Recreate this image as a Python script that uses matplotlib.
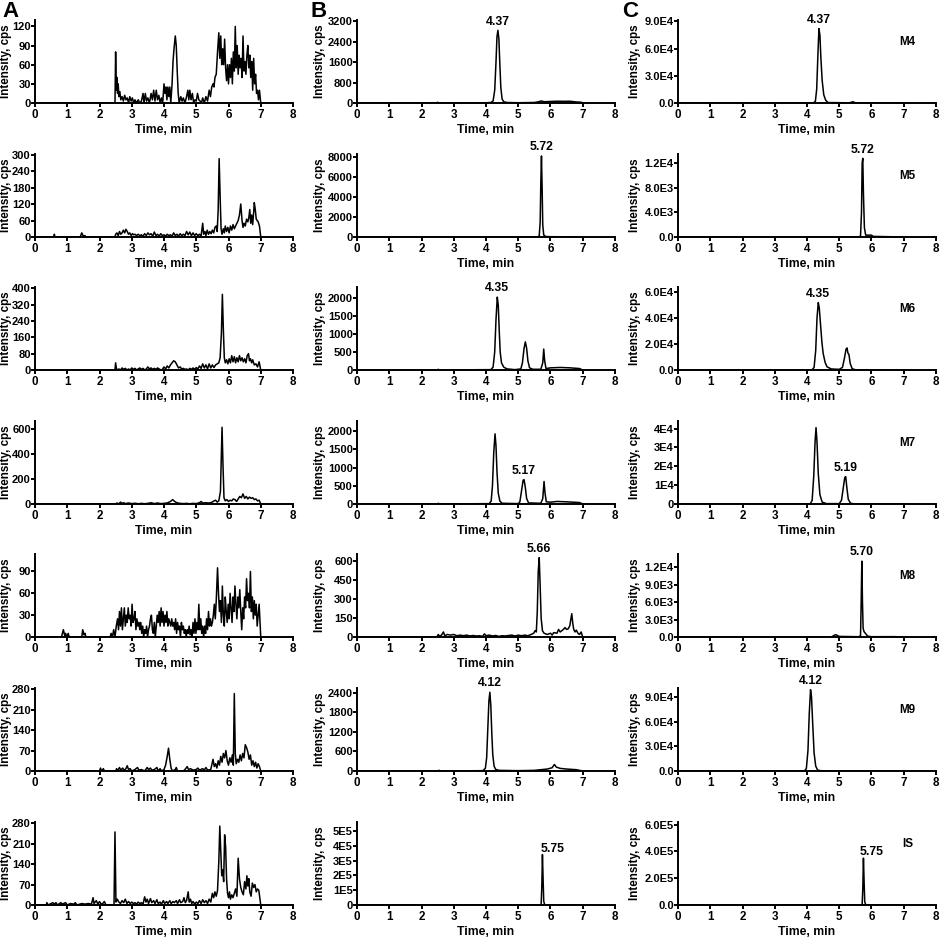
import matplotlib
matplotlib.use('Agg')
import matplotlib.pyplot as plt

plt.rcParams['font.family'] = ['Liberation Sans', 'DejaVu Sans']
plt.rcParams['font.weight'] = 'bold'
plt.rcParams['axes.labelweight'] = 'bold'

# ── Traces (time min, intensity cps) ───────────────────────────────────────
a1 = [(0,0),(2.48,0),(2.50,80),(2.52,20),(2.54,40),(2.56,15),(2.58,30),(2.60,10),(2.63,18),(2.66,5),(2.70,10),(2.74,3),
      (2.78,12),(2.82,5),(2.86,8),(2.90,0),(2.94,10),(2.98,3),(3.02,8),(3.06,0),(3.10,5),(3.15,0),(3.20,5),(3.25,0),(3.30,3),
      (3.35,15),(3.38,0),(3.42,15),(3.46,3),(3.50,8),(3.55,0),(3.60,15),(3.64,5),(3.68,20),(3.72,3),(3.76,20),(3.80,5),
      (3.84,12),(3.88,0),(3.92,8),(3.96,0),(4.00,30),(4.03,15),(4.06,25),(4.09,5),(4.12,25),(4.15,10),(4.18,25),(4.21,0),
      (4.25,30),(4.28,65),(4.31,85),(4.35,105),(4.38,90),(4.41,50),(4.44,15),(4.47,0),(4.52,10),(4.56,3),(4.60,8),(4.65,0),
      (4.70,10),(4.74,20),(4.77,5),(4.80,20),(4.84,5),(4.88,15),(4.92,0),(4.96,5),(5.00,3),(5.04,15),(5.08,5),(5.12,3),
      (5.16,0),(5.20,8),(5.25,0),(5.30,10),(5.35,3),(5.40,20),(5.44,10),(5.48,25),(5.52,30),(5.55,25),(5.58,40),(5.62,45),
      (5.66,80),(5.70,110),(5.73,70),(5.76,105),(5.79,60),(5.82,85),(5.85,60),(5.88,100),(5.91,55),(5.94,35),(5.97,60),
      (6.00,30),(6.03,60),(6.06,40),(6.09,70),(6.12,30),(6.15,80),(6.18,50),(6.21,120),(6.24,55),(6.27,90),(6.30,45),
      (6.33,75),(6.36,55),(6.39,70),(6.42,40),(6.45,105),(6.48,50),(6.51,65),(6.54,45),(6.57,75),(6.60,90),(6.63,55),
      (6.66,75),(6.69,40),(6.72,65),(6.75,20),(6.78,70),(6.81,30),(6.84,45),(6.87,15),(6.90,20),(6.93,5),(6.96,20),(7.00,0)]
a2 = [(0,0),(0.58,0),(0.60,10),(0.62,0),(1.40,0),(1.45,15),(1.50,3),(1.55,5),(1.58,0),(2.48,0),(2.50,10),(2.54,15),
      (2.58,5),(2.62,20),(2.66,10),(2.70,15),(2.74,25),(2.78,15),(2.82,28),(2.86,20),(2.90,10),(2.94,15),(2.98,5),(3.02,12),
      (3.06,8),(3.10,10),(3.15,5),(3.20,10),(3.25,5),(3.30,8),(3.35,3),(3.40,12),(3.45,5),(3.50,15),(3.55,8),(3.60,12),
      (3.65,3),(3.70,18),(3.75,5),(3.80,10),(3.85,3),(3.90,12),(3.95,5),(4.00,8),(4.05,3),(4.10,10),(4.15,5),(4.20,8),
      (4.25,3),(4.30,15),(4.35,5),(4.40,10),(4.45,3),(4.50,12),(4.55,5),(4.60,10),(4.65,5),(4.70,20),(4.75,8),(4.80,18),
      (4.85,5),(4.90,15),(4.95,5),(5.00,12),(5.05,5),(5.10,10),(5.15,3),(5.20,50),(5.23,10),(5.27,20),(5.30,5),(5.34,25),
      (5.38,10),(5.42,20),(5.46,12),(5.50,25),(5.54,15),(5.58,35),(5.62,40),(5.65,20),(5.68,100),(5.71,285),(5.74,150),
      (5.77,30),(5.80,10),(5.84,30),(5.87,15),(5.90,40),(5.94,20),(5.98,35),(6.02,15),(6.06,40),(6.10,25),(6.14,45),
      (6.18,30),(6.22,40),(6.26,50),(6.30,60),(6.34,80),(6.38,120),(6.42,60),(6.45,35),(6.48,50),(6.52,40),(6.56,65),
      (6.60,55),(6.63,70),(6.66,100),(6.69,50),(6.72,80),(6.75,45),(6.78,90),(6.80,125),(6.83,100),(6.86,65),(6.89,60),
      (6.92,55),(6.96,40),(7.00,0)]
a3 = [(0,0),(2.48,0),(2.50,35),(2.53,0),(2.60,5),(2.65,0),(2.70,10),(2.75,3),(2.80,8),(2.85,0),(2.90,5),(2.95,0),
      (3.00,10),(3.05,3),(3.10,8),(3.15,0),(3.20,5),(3.25,10),(3.30,3),(3.35,8),(3.40,0),(3.45,5),(3.50,15),(3.55,5),
      (3.60,10),(3.65,3),(3.70,8),(3.75,3),(3.80,10),(3.85,5),(3.90,0),(3.95,3),(4.00,15),(4.05,5),(4.10,20),(4.15,10),
      (4.20,25),(4.25,35),(4.30,45),(4.35,40),(4.40,25),(4.45,10),(4.50,15),(4.55,5),(4.60,8),(4.65,3),(4.70,5),(4.75,0),
      (4.80,8),(4.85,3),(4.90,10),(4.95,3),(5.00,12),(5.05,5),(5.10,20),(5.15,8),(5.20,30),(5.25,10),(5.30,25),(5.35,5),
      (5.40,30),(5.45,10),(5.50,25),(5.55,12),(5.60,25),(5.65,30),(5.70,35),(5.74,60),(5.78,180),(5.81,370),(5.84,200),
      (5.87,60),(5.90,35),(5.94,50),(5.98,30),(6.02,55),(6.06,35),(6.10,70),(6.14,40),(6.18,65),(6.22,35),(6.26,60),
      (6.30,40),(6.34,70),(6.38,45),(6.42,60),(6.46,40),(6.50,55),(6.54,35),(6.58,70),(6.62,80),(6.65,45),(6.68,55),
      (6.72,35),(6.75,50),(6.80,25),(6.85,30),(6.90,15),(6.95,40),(7.00,0)]
a4 = [(0,0),(2.48,0),(2.55,8),(2.60,0),(2.65,15),(2.70,5),(2.75,10),(2.80,3),(2.90,8),(3.00,3),(3.10,6),(3.20,2),
      (3.30,5),(3.40,2),(3.50,5),(3.60,10),(3.70,3),(3.80,8),(3.90,3),(4.00,5),(4.10,8),(4.20,20),(4.27,35),(4.33,20),
      (4.40,10),(4.50,5),(4.60,3),(4.70,5),(4.80,2),(4.90,5),(5.00,3),(5.10,10),(5.15,20),(5.20,8),(5.30,10),(5.40,8),
      (5.50,15),(5.55,25),(5.60,30),(5.65,15),(5.70,25),(5.75,100),(5.80,610),(5.83,300),(5.86,50),(5.90,25),(5.95,35),
      (6.00,20),(6.05,30),(6.10,25),(6.15,40),(6.20,35),(6.25,20),(6.30,40),(6.35,60),(6.40,50),(6.45,80),(6.50,45),
      (6.55,60),(6.60,40),(6.65,55),(6.70,45),(6.75,50),(6.80,35),(6.85,40),(6.90,25),(6.95,30),(7.00,0)]
a5 = [(0,0),(0.82,0),(0.85,5),(0.88,10),(0.92,2),(0.95,5),(0.98,0),(1.03,5),(1.06,0),(1.45,0),(1.48,10),(1.52,3),
      (1.55,5),(1.58,0),(2.33,0),(2.36,5),(2.40,0),(2.44,10),(2.48,0),(2.52,15),(2.56,25),(2.59,10),(2.62,35),(2.65,15),
      (2.68,40),(2.71,10),(2.74,25),(2.77,40),(2.80,15),(2.83,30),(2.86,20),(2.89,40),(2.92,25),(2.95,30),(2.98,15),
      (3.01,45),(3.04,20),(3.07,25),(3.10,35),(3.13,10),(3.16,25),(3.19,15),(3.22,20),(3.25,10),(3.28,20),(3.31,5),
      (3.34,15),(3.37,0),(3.40,10),(3.43,5),(3.46,15),(3.49,0),(3.52,10),(3.55,15),(3.58,25),(3.61,30),(3.64,10),(3.67,5),
      (3.70,20),(3.73,0),(3.76,15),(3.79,30),(3.82,20),(3.85,35),(3.88,15),(3.91,40),(3.94,20),(3.97,35),(4.00,15),
      (4.03,30),(4.06,20),(4.09,35),(4.12,15),(4.15,25),(4.18,20),(4.21,15),(4.24,25),(4.27,15),(4.30,20),(4.33,10),
      (4.36,25),(4.39,5),(4.42,20),(4.45,10),(4.48,15),(4.51,0),(4.54,20),(4.57,10),(4.60,15),(4.63,5),(4.66,10),(4.69,0),
      (4.72,10),(4.75,5),(4.78,15),(4.81,3),(4.84,10),(4.87,0),(4.90,20),(4.93,5),(4.96,25),(4.99,5),(5.02,20),(5.05,10),
      (5.08,45),(5.11,10),(5.14,25),(5.17,5),(5.20,15),(5.23,0),(5.26,15),(5.29,5),(5.32,25),(5.35,10),(5.38,35),(5.41,15),
      (5.44,25),(5.47,15),(5.50,20),(5.53,30),(5.56,45),(5.59,25),(5.62,50),(5.66,95),(5.69,60),(5.72,35),(5.75,50),
      (5.78,20),(5.81,70),(5.84,30),(5.87,15),(5.90,55),(5.93,35),(5.96,20),(5.99,45),(6.02,25),(6.05,60),(6.08,40),
      (6.11,20),(6.14,55),(6.17,35),(6.20,70),(6.23,45),(6.26,25),(6.29,55),(6.32,40),(6.35,65),(6.38,35),(6.41,10),
      (6.44,40),(6.47,25),(6.50,55),(6.53,40),(6.56,80),(6.59,50),(6.62,60),(6.65,40),(6.68,90),(6.71,35),(6.74,55),
      (6.77,25),(6.80,50),(6.83,30),(6.86,45),(6.89,15),(6.92,30),(6.95,45),(7.00,0)]
a6 = [(0,0),(2.00,0),(2.03,10),(2.06,0),(2.12,8),(2.15,0),(2.50,0),(2.53,8),(2.56,0),(2.62,12),(2.66,3),(2.72,10),
      (2.76,2),(2.82,8),(2.86,18),(2.90,5),(2.95,8),(3.00,0),(3.10,5),(3.18,12),(3.22,3),(3.30,5),(3.40,0),(3.48,12),
      (3.52,5),(3.58,10),(3.62,3),(3.70,5),(3.78,12),(3.82,0),(3.88,8),(3.92,0),(4.00,5),(4.05,20),(4.10,50),(4.14,78),
      (4.18,40),(4.22,10),(4.26,0),(4.35,5),(4.38,12),(4.42,0),(4.60,0),(4.65,5),(4.72,15),(4.76,5),(4.82,8),(4.90,3),
      (5.00,5),(5.05,10),(5.10,3),(5.20,8),(5.25,3),(5.30,12),(5.35,3),(5.45,5),(5.52,40),(5.56,15),(5.60,25),(5.64,10),
      (5.68,35),(5.72,20),(5.76,50),(5.80,30),(5.84,60),(5.88,45),(5.92,70),(5.96,35),(6.00,20),(6.04,45),(6.08,30),
      (6.12,55),(6.15,20),(6.18,265),(6.21,60),(6.24,25),(6.28,40),(6.32,30),(6.36,55),(6.40,35),(6.44,60),(6.48,45),
      (6.52,90),(6.56,80),(6.60,65),(6.64,40),(6.68,55),(6.72,20),(6.76,35),(6.80,15),(6.84,30),(6.88,10),(6.92,25),
      (6.96,15),(7.00,0)]
a7 = [(0,0),(0.35,0),(0.37,8),(0.40,0),(0.50,5),(0.55,8),(0.60,3),(0.65,8),(0.70,0),(0.80,8),(0.85,3),(0.95,8),
      (1.00,0),(1.10,5),(1.20,3),(1.25,8),(1.30,0),(1.45,5),(1.55,3),(1.65,5),(1.75,3),(1.80,25),(1.83,5),(1.90,15),
      (1.95,3),(2.00,12),(2.05,3),(2.10,5),(2.15,12),(2.20,0),(2.45,0),(2.48,250),(2.51,10),(2.55,20),(2.60,10),(2.65,5),
      (2.70,15),(2.75,8),(2.80,20),(2.85,5),(2.90,12),(2.95,5),(3.00,10),(3.05,5),(3.10,8),(3.15,3),(3.20,10),(3.25,5),
      (3.30,8),(3.35,3),(3.40,28),(3.44,10),(3.48,20),(3.52,5),(3.58,22),(3.62,8),(3.68,15),(3.72,5),(3.78,18),(3.82,5),
      (3.88,10),(3.92,3),(3.98,15),(4.02,5),(4.08,12),(4.12,5),(4.18,15),(4.22,5),(4.28,12),(4.32,8),(4.38,15),(4.42,5),
      (4.48,18),(4.52,8),(4.58,12),(4.62,25),(4.66,8),(4.70,15),(4.75,45),(4.78,10),(4.82,20),(4.86,5),(4.90,12),
      (4.95,3),(5.00,10),(5.05,5),(5.10,15),(5.15,5),(5.20,18),(5.25,8),(5.30,15),(5.35,5),(5.40,20),(5.45,10),(5.50,40),
      (5.54,25),(5.58,45),(5.62,30),(5.66,50),(5.70,150),(5.73,270),(5.76,180),(5.79,100),(5.82,120),(5.85,80),(5.88,240),
      (5.91,200),(5.94,90),(5.97,40),(6.00,25),(6.03,45),(6.06,20),(6.10,35),(6.14,25),(6.18,40),(6.22,55),(6.26,30),
      (6.30,160),(6.34,90),(6.38,60),(6.42,45),(6.46,35),(6.50,80),(6.54,55),(6.57,100),(6.60,65),(6.63,90),(6.66,45),
      (6.70,30),(6.74,75),(6.78,60),(6.82,70),(6.86,45),(6.90,55),(6.94,50),(7.00,0)]

b1 = [(0,0),(2.48,0),(2.50,30),(2.53,0),(3.0,5),(4.0,10),(4.15,20),(4.22,80),(4.27,500),(4.31,1600),(4.34,2600),
      (4.37,2850),(4.40,2500),(4.43,1500),(4.46,600),(4.50,150),(4.55,50),(4.65,20),(5.0,10),(5.5,20),(5.6,40),(5.72,80),
      (5.8,50),(6.0,60),(6.2,70),(6.4,65),(6.6,70),(6.8,40),(6.95,30),(7.0,0)]
b2 = [(0,0),(5.60,0),(5.65,100),(5.68,1500),(5.70,5500),(5.72,8100),(5.74,5000),(5.76,1200),(5.79,200),(5.85,50),
      (6.0,30),(6.5,20),(7.0,0)]
b3 = [(0,0),(2.5,0),(2.52,20),(2.55,0),(4.15,10),(4.22,80),(4.27,500),(4.31,1400),(4.35,2020),(4.38,1800),(4.41,1100),
      (4.44,500),(4.48,200),(4.55,80),(4.65,30),(4.9,10),(5.08,30),(5.13,200),(5.18,600),(5.22,780),(5.26,600),(5.30,250),
      (5.35,60),(5.45,20),(5.70,20),(5.76,200),(5.79,580),(5.82,250),(5.86,40),(6.0,60),(6.3,70),(6.6,60),(6.9,40),(7.0,0)]
b4 = [(0,0),(2.5,0),(2.52,20),(2.55,0),(4.10,10),(4.16,80),(4.20,500),(4.24,1400),(4.28,1930),(4.31,1600),(4.34,900),
      (4.38,300),(4.43,80),(4.5,20),(5.0,10),(5.05,60),(5.10,350),(5.15,650),(5.18,670),(5.22,450),(5.26,150),(5.32,30),
      (5.70,20),(5.76,150),(5.80,620),(5.83,300),(5.87,60),(6.0,50),(6.2,70),(6.5,60),(6.9,40),(7.0,0)]
b5 = [(0,0),(2.48,0),(2.52,20),(2.56,5),(2.62,15),(2.68,40),(2.72,10),(2.80,20),(2.9,15),(3.0,20),(3.1,10),(3.2,15),
      (3.3,10),(3.4,15),(3.5,8),(3.6,12),(3.7,8),(3.8,10),(3.9,5),(3.95,25),(4.0,10),(4.1,15),(4.2,8),(4.3,12),(4.4,5),
      (4.5,10),(4.6,8),(4.7,12),(4.8,15),(4.9,8),(5.0,15),(5.1,10),(5.2,15),(5.3,10),(5.4,20),(5.48,30),(5.52,50),
      (5.56,40),(5.59,200),(5.62,520),(5.65,630),(5.68,400),(5.71,150),(5.75,50),(5.80,30),(5.9,20),(6.0,30),(6.05,15),
      (6.1,35),(6.2,30),(6.25,60),(6.3,40),(6.4,60),(6.45,75),(6.5,60),(6.55,65),(6.6,90),(6.63,140),(6.66,185),
      (6.69,110),(6.72,60),(6.76,40),(6.8,55),(6.85,30),(6.9,20),(6.95,40),(7.0,0)]
b6 = [(0,0),(2.5,0),(2.55,20),(2.6,0),(3.9,10),(3.98,80),(4.02,400),(4.06,1400),(4.09,2150),(4.12,2420),(4.15,2000),
      (4.18,1150),(4.21,500),(4.25,150),(4.30,50),(4.4,20),(5.0,10),(5.5,20),(5.7,40),(5.9,60),(6.05,100),(6.12,200),
      (6.18,120),(6.3,80),(6.5,60),(6.8,40),(7.0,0)]
b7 = [(0,0),(5.68,0),(5.71,4000),(5.73,120000),(5.75,340000),(5.77,180000),(5.79,25000),(5.82,2000),(6.0,0),(7.0,0)]

c1 = [(0,0),(4.20,0),(4.26,2000),(4.30,15000),(4.34,55000),(4.37,82000),(4.40,75000),(4.43,50000),(4.47,25000),
      (4.52,9000),(4.58,3000),(4.65,500),(5.3,200),(5.38,800),(5.42,1500),(5.47,500),(5.6,100),(7.0,0)]
c2 = [(0,0),(5.62,0),(5.66,200),(5.69,4000),(5.71,12000),(5.73,12800),(5.75,7000),(5.78,1500),(5.82,300),(6.0,300),
      (6.05,100),(7.0,0)]
c3 = [(0,0),(4.15,0),(4.22,2000),(4.27,15000),(4.31,40000),(4.35,52000),(4.38,48000),(4.42,35000),(4.46,22000),
      (4.50,13000),(4.56,6000),(4.62,2500),(4.75,800),(5.0,500),(5.10,2000),(5.16,9000),(5.21,16000),(5.24,17000),
      (5.27,13000),(5.30,12000),(5.34,5000),(5.40,1000),(5.5,200),(7.0,0)]
c4 = [(0,0),(4.10,0),(4.16,2000),(4.21,15000),(4.25,33000),(4.28,40500),(4.31,33000),(4.35,16000),(4.40,5000),
      (4.47,1000),(4.6,200),(5.0,200),(5.07,2000),(5.12,8000),(5.17,14000),(5.20,14500),(5.24,8000),(5.28,2500),
      (5.35,400),(5.5,0),(7.0,0)]
c5 = [(0,0),(4.75,0),(4.82,200),(4.88,400),(4.93,300),(5.0,100),(5.6,50),(5.66,200),(5.68,6000),(5.70,13000),
      (5.72,6000),(5.74,1500),(5.77,900),(5.80,700),(5.83,500),(5.88,150),(6.0,50),(6.7,60),(7.0,0)]
c6 = [(0,0),(3.92,0),(3.98,3000),(4.03,25000),(4.07,70000),(4.11,99000),(4.14,90000),(4.18,55000),(4.22,22000),
      (4.27,6000),(4.33,1000),(4.5,0),(7.0,0)]
c7 = [(0,0),(5.68,0),(5.71,4000),(5.73,120000),(5.75,350000),(5.77,180000),(5.79,25000),(5.82,2000),(6.0,0),(7.0,0)]

# ── Axis ticks / limits ─────────────────────────────────────────────────────
a_ticks = [[0,30,60,90,120],[0,60,120,180,240,300],[0,80,160,240,320,400],[0,200,400,600],
           [0,30,60,90],[0,70,140,210,280],[0,70,140,210,280]]
a_top = [130,302,406,660,114,284,284]
b_ticks = [[0,800,1600,2400,3200],[0,2000,4000,6000,8000],[0,500,1000,1500,2000],[0,500,1000,1500,2000],
           [0,150,300,450,600],[0,600,1200,1800,2400],[0,1e5,2e5,3e5,4e5,5e5]]
b_labels = [None, None, None, None, None, None, ['0','1E5','2E5','3E5','4E5','5E5']]
b_top = [3255,8300,2300,2283,659,2550,5.6e5]
c_ticks = [[0,3e4,6e4,9e4],[0,4e3,8e3,1.2e4],[0,2e4,4e4,6e4],[0,1e4,2e4,3e4,4e4],
           [0,3e3,6e3,9e3,1.2e4],[0,3e4,6e4,9e4],[0,2e5,4e5,6e5]]
c_labels = [['0.0','3.0E4','6.0E4','9.0E4'],['0.0','4.0E3','8.0E3','1.2E4'],['0.0','2.0E4','4.0E4','6.0E4'],
            ['0','1E4','2E4','3E4','4E4'],['0.0','3.0E3','6.0E3','9.0E3','1.2E4'],['0.0','3.0E4','6.0E4','9.0E4'],
            ['0.0','2.0E5','4.0E5','6.0E5']]
c_top = [91500,13500,64000,44000,14230,101000,6.2e5]

b_peak = [('4.37',4.37,2850),('5.72',5.72,8100),('4.35',4.35,2020),('5.17',5.18,670),
          ('5.66',5.65,630),('4.12',4.12,2420),('5.75',5.75,340000)]
c_peak = [('4.37',4.37,82000),('5.72',5.73,12800),('4.35',4.35,52000),('5.19',5.20,14500),
          ('5.70',5.70,13000),('4.12',4.11,99000),('5.75',5.75,350000)]
compounds = ['M4','M5','M6','M7','M8','M9','IS']

a_traces = [a1,a2,a3,a4,a5,a6,a7]
b_traces = [b1,b2,b3,b4,b5,b6,b7]
c_traces = [c1,c2,c3,c4,c5,c6,c7]

# ── Layout (pixels of a 941x938 canvas) ─────────────────────────────────────
W, H = 941, 938
col_x = [35, 357, 678]
col_w = 258
ylab_x = [12, 326, 641]          # right edge of the rotated y label
row_base = [103, 237, 370, 504, 637, 771, 905]
ax_h = 83
FS = 8.0

fig = plt.figure(figsize=(W/100, H/100), dpi=100)

def make_ax(col, row, trace, ticks, labels, top):
    ax = fig.add_axes([col_x[col]/W, 1 - row_base[row]/H, col_w/W, ax_h/H])
    ts = [p[0] for p in trace]
    ys = [p[1] for p in trace]
    ax.plot(ts, ys, color='black', lw=1.1)
    ax.set_xlim(0, 8)
    ax.set_ylim(0, top)
    ax.set_xticks(range(9))
    ax.set_yticks(ticks)
    if labels is not None:
        ax.set_yticklabels(labels)
    for s in ['top', 'right']:
        ax.spines[s].set_visible(False)
    for s in ['left', 'bottom']:
        ax.spines[s].set_linewidth(1.4)
    ax.tick_params(direction='out', length=3, width=1.4, labelsize=FS)
    ax.tick_params(axis='x', labelsize=FS+0.4, pad=1)
    ax.tick_params(axis='y', pad=0)
    for lab in ax.get_xticklabels() + ax.get_yticklabels():
        lab.set_fontweight('bold')
    ax.set_xlabel('Time, min', fontsize=FS+0.8, fontweight='bold', labelpad=2.5)
    ax.set_ylabel('Intensity, cps', fontsize=FS+0.4, fontweight='bold')
    ax.yaxis.set_label_coords((ylab_x[col] - col_x[col]) / col_w, 0.5)
    return ax

def peak_label(ax, info, dx=0, dy=2, ha='center'):
    txt, tp, yp = info
    ax.annotate(txt, xy=(tp, yp), xytext=(dx, dy), textcoords='offset points',
                ha=ha, va='bottom', fontsize=FS+0.8, fontweight='bold',
                annotation_clip=False)

for r in range(7):
    make_ax(0, r, a_traces[r], a_ticks[r], None, a_top[r])
    ax = make_ax(1, r, b_traces[r], b_ticks[r], b_labels[r], b_top[r])
    if r == 6:
        peak_label(ax, b_peak[r], dx=-1, dy=0, ha='left')
    else:
        peak_label(ax, b_peak[r])
    ax = make_ax(2, r, c_traces[r], c_ticks[r], c_labels[r], c_top[r])
    if r == 6:
        peak_label(ax, c_peak[r], dx=-3, dy=0, ha='left')
    else:
        peak_label(ax, c_peak[r])
    ax.text(0.89, 0.74, compounds[r], transform=ax.transAxes, ha='center', va='center',
            fontsize=FS+0.4, fontweight='bold')

for letter, x in zip(['A', 'B', 'C'], [2, 311, 622]):
    fig.text(x/W, 1 - 1/H, letter, fontsize=16, fontweight='bold', ha='left', va='top')

fig.savefig('out.png', dpi=100)
